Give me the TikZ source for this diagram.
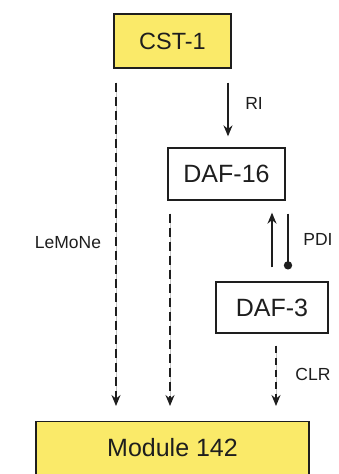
\documentclass[tikz,border=0pt]{standalone}
\usepackage{fontspec}
\setmainfont{Liberation Sans}
\usetikzlibrary{arrows.meta,calc}
\definecolor{boxyellow}{RGB}{250,234,105}
\definecolor{ink}{RGB}{30,30,30}
\begin{document}
\begin{tikzpicture}[x=1pt,y=-1pt,
  box/.style={draw=ink,line width=1.3pt,inner sep=0pt,font=\fontsize{25}{28}\selectfont,text=ink},
  ybox/.style={box,fill=boxyellow},
  lbl/.style={font=\fontsize{17.5}{20}\selectfont,text=ink,inner sep=0pt},
  arr/.style={draw=ink,line width=1.5pt,-{Stealth[length=11pt,width=9pt]}},
  dsh/.style={arr,dash pattern=on 9pt off 5pt},
  under/.style={draw=gray!45,line width=0.5pt}
]
\useasboundingbox (0,0) rectangle (339,474);
\clip (0,0) rectangle (339,474);
\fill[white] (0,0) rectangle (339,474);

\node[ybox,minimum width=117pt,minimum height=54pt,font=\fontsize{23.5}{26}\selectfont] (cst) at (172.5,41) {CST-1};
\node[box,minimum width=117pt,minimum height=52pt] (d16) at (226.5,174) {DAF-16};
\node[box,minimum width=112pt,minimum height=51pt] (d3) at (272,307.5) {DAF-3};
\node[ybox,minimum width=273pt,minimum height=80pt,anchor=north] (mod) at (172.5,421) {};
\node[box,draw=none] (modtxt) at (172.5,448) {Module 142};

\coordinate (xa) at (116,0);
\coordinate (xb) at (170,0);
\coordinate (xc) at (228,0);
\coordinate (xd) at (272,0);
\coordinate (xe) at (288,0);
\coordinate (xf) at (276,0);

% LeMoNe
\draw[under] ([yshift=-14pt]cst.south -| xa) -- ([yshift=18pt]mod.north -| xa);
\draw[dsh] ([yshift=-14pt]cst.south -| xa) -- ([yshift=15pt]mod.north -| xa);
% DAF-16 -> module
\draw[under] ([yshift=-13pt]d16.south -| xb) -- ([yshift=18pt]mod.north -| xb);
\draw[dsh] ([yshift=-13pt]d16.south -| xb) -- ([yshift=15pt]mod.north -| xb);
% RI
\draw[arr] ([yshift=-14pt]cst.south -| xc) -- ([yshift=11pt]d16.north -| xc);
% PDI
\draw[arr] ([yshift=14pt]d3.north -| xd) -- ([yshift=-12pt]d16.south -| xd);
\draw[draw=ink,line width=1.5pt] ([yshift=-13pt]d16.south -| xe) -- ([yshift=16pt]d3.north -| xe) coordinate (dot);
\fill[ink] (dot) circle (4.2pt);
% CLR
\draw[under] ([yshift=-12pt]d3.south -| xf) -- ([yshift=18pt]mod.north -| xf);
\draw[arr,dash pattern=on 7pt off 5pt] ([yshift=-12pt]d3.south -| xf) -- ([yshift=15pt]mod.north -| xf);

\node[lbl] (lemone) at (68,243) {LeMoNe};
\node[lbl] (ri) at (254,103) {RI};
\node[lbl] (pdi) at (318,239) {PDI};
\node[lbl] (clr) at (313,374) {CLR};
\end{tikzpicture}
\end{document}
